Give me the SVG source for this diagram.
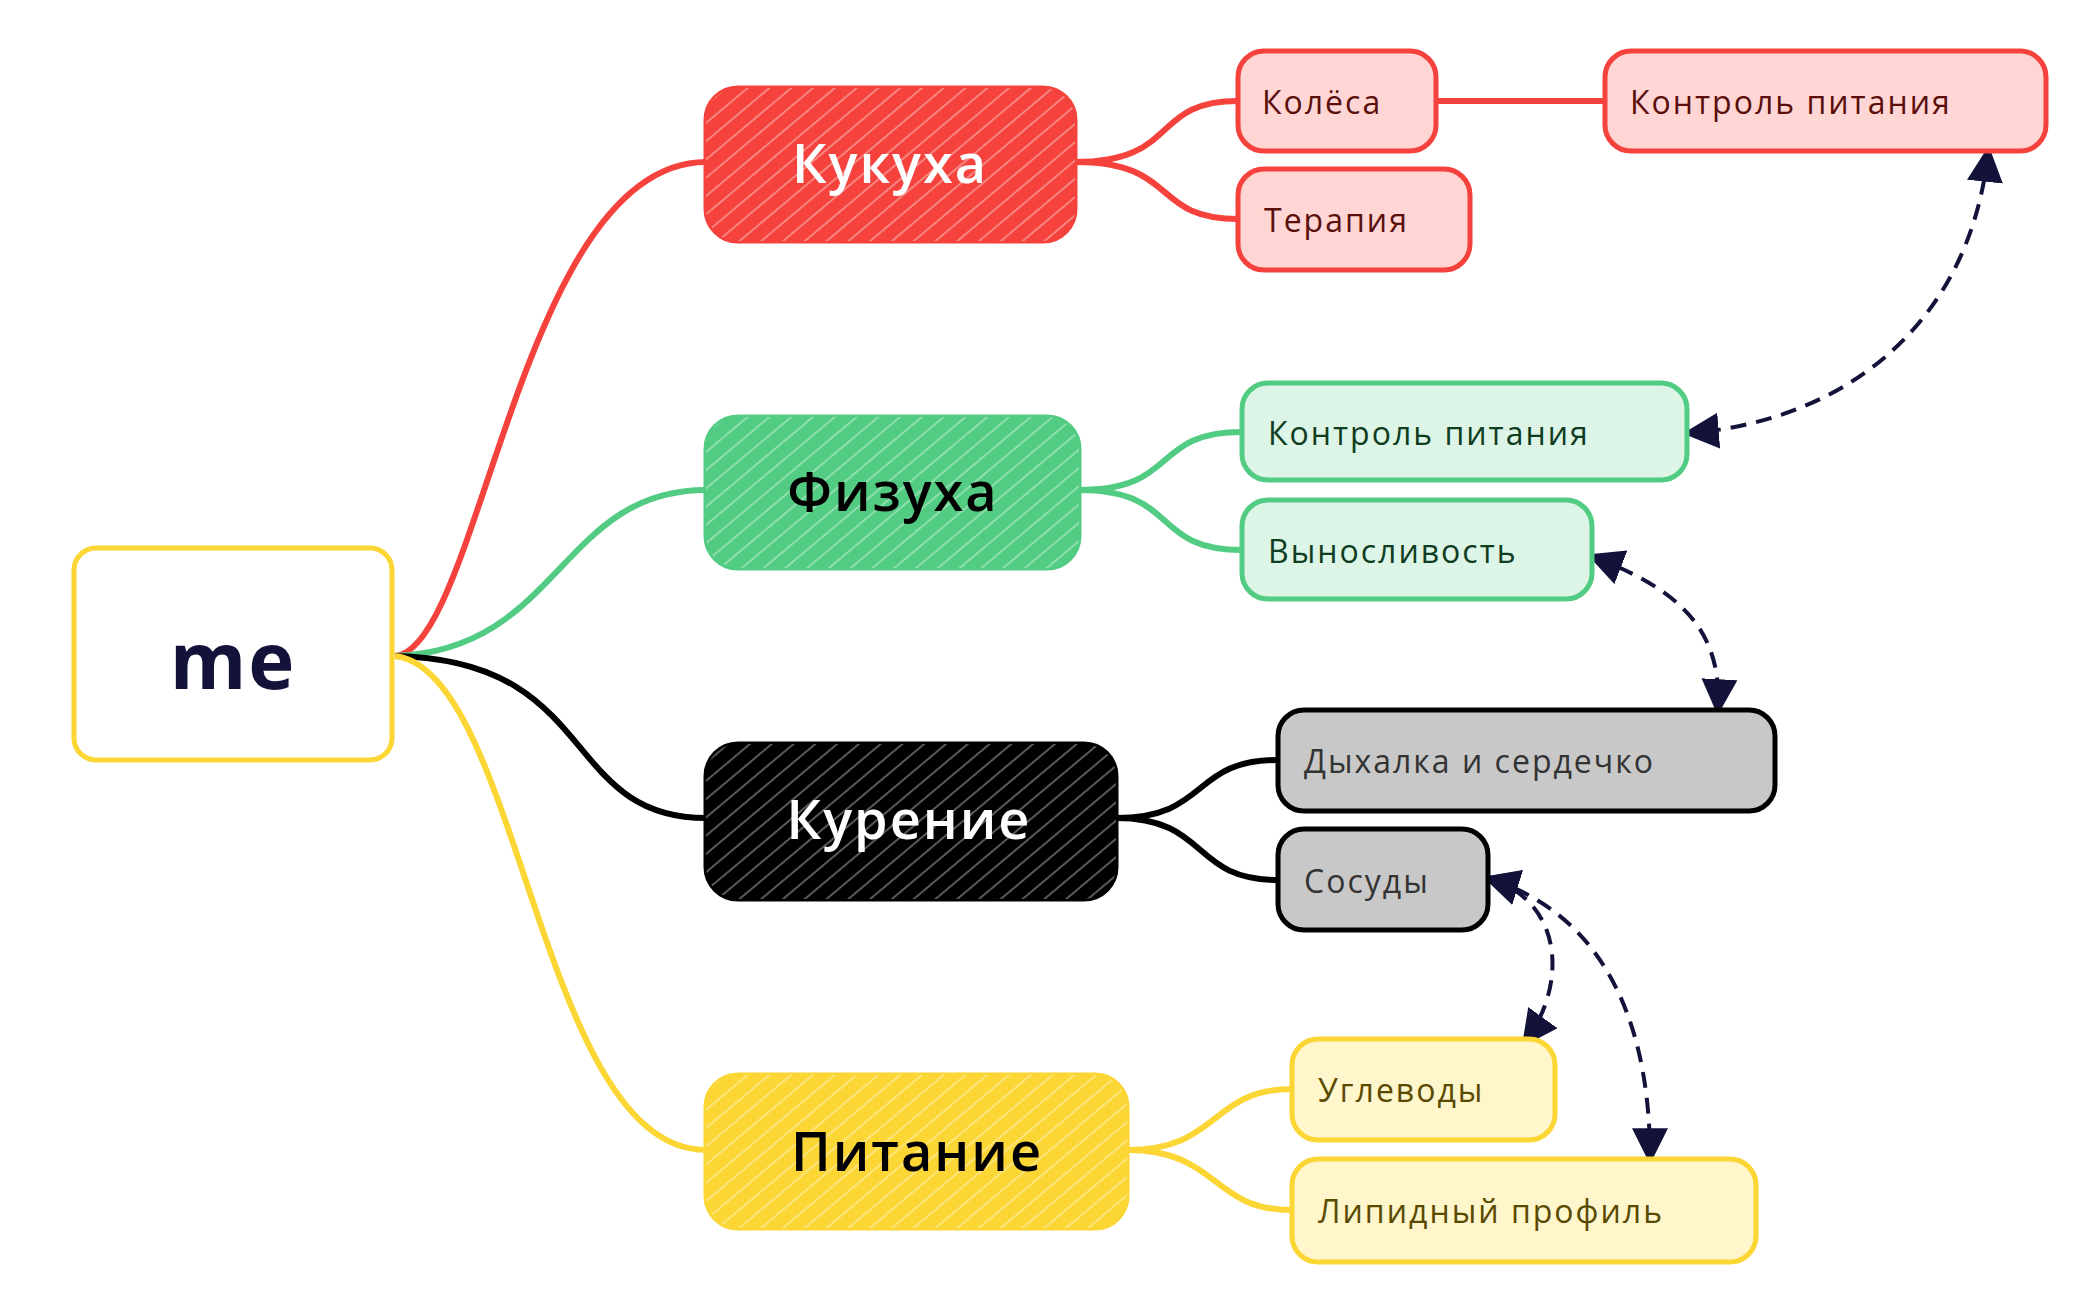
<svg xmlns="http://www.w3.org/2000/svg" width="2099" height="1300" viewBox="0 0 2099 1300">
<defs>
<pattern id="h" width="14" height="14" patternUnits="userSpaceOnUse" patternTransform="rotate(-40)"><line x1="0" y1="2" x2="14" y2="2" stroke="#fff" stroke-opacity="0.35" stroke-width="2"/></pattern>
<marker id="a" viewBox="0 0 10 10" refX="8" refY="5" markerWidth="9" markerHeight="9" orient="auto-start-reverse"><path d="M0,0 L10,5 L0,10 z" fill="#12123a"/></marker>
<style>
text{font-family:"Open Sans","Liberation Sans",sans-serif;text-anchor:middle;dominant-baseline:central;letter-spacing:2px}
.m{font-size:54px;font-weight:600}.c{font-size:32px;text-anchor:start}
.dash{fill:none;stroke:#12123a;stroke-width:4;stroke-dasharray:16 10;marker-start:url(#a);marker-end:url(#a)}
.e{fill:none;stroke-width:6}
</style>
</defs>
<rect width="2099" height="1300" fill="#fff"/>
<g id="connectors">
<path class="e" stroke="#f5423c" d="M395,656 C480,650 520,162 706,162"/>
<path class="e" stroke="#52cc83" d="M395,656 C560,650 560,490 706,490"/>
<path class="e" stroke="#000" stroke-width="8" d="M395,656 C600,660 560,818 706,818"/>
<path class="e" stroke="#fcd634" d="M395,656 C520,670 540,1150 706,1150"/>
<path class="e" stroke="#f5423c" d="M1075,162 C1180,162 1150,101 1238,101"/>
<path class="e" stroke="#f5423c" d="M1075,162 C1180,162 1150,219 1238,219"/>
<path class="e" stroke="#f5423c" d="M1436,101 L1605,101"/>
<path class="e" stroke="#52cc83" d="M1079,490 C1180,490 1150,432 1242,432"/>
<path class="e" stroke="#52cc83" d="M1079,490 C1180,490 1150,550 1242,550"/>
<path class="e" stroke="#000" d="M1116,818 C1210,818 1190,760 1278,760"/>
<path class="e" stroke="#000" d="M1116,818 C1210,818 1190,880 1278,880"/>
<path class="e" stroke="#fcd634" d="M1127,1150 C1220,1150 1210,1089 1292,1089"/>
<path class="e" stroke="#fcd634" d="M1127,1150 C1220,1150 1210,1210 1292,1210"/>
<path class="dash" d="M1988,153 C1970,320 1850,420 1690,433"/>
<path class="dash" d="M1594,557 C1680,590 1722,630 1718,708"/>
<path class="dash" d="M1490,879 C1560,900 1570,980 1526,1041"/>
<path class="dash" d="M1490,879 C1620,920 1650,1050 1650,1157"/>
</g>
<g id="me"><rect x="74" y="548" width="318" height="212" rx="22" fill="#fff" stroke="#fcd634" stroke-width="5"/><text x="233" y="659" style="font-size:78px;font-weight:bold;fill:#12123a">me</text></g>
<g id="kukuha"><rect x="706" y="88" width="369" height="153" rx="32" fill="#f5423c" stroke="#f5423c" stroke-width="5"/><rect x="706" y="88" width="369" height="153" rx="32" fill="url(#h)"/><text class="m" x="890" y="162" fill="#fff">Кукуха</text></g>
<g id="fizuha"><rect x="706" y="417" width="373" height="151" rx="32" fill="#52cc83" stroke="#52cc83" stroke-width="5"/><rect x="706" y="417" width="373" height="151" rx="32" fill="url(#h)"/><text class="m" x="893" y="490" fill="#000">Физуха</text></g>
<g id="kurenie"><rect x="706" y="744" width="410" height="155" rx="32" fill="#000" stroke="#000" stroke-width="5"/><rect x="706" y="744" width="410" height="155" rx="32" fill="url(#h)"/><text class="m" x="909" y="818" fill="#fff">Курение</text></g>
<g id="pitanie"><rect x="706" y="1075" width="421" height="153" rx="32" fill="#fcd634" stroke="#fcd634" stroke-width="5"/><rect x="706" y="1075" width="421" height="153" rx="32" fill="url(#h)"/><text class="m" x="917" y="1150" fill="#000">Питание</text></g>
<g id="kolesa"><rect x="1238" y="51" width="198" height="100" rx="26" fill="#ffd6d4" stroke="#f5423c" stroke-width="5"/><text class="c" x="1262" y="101" fill="#5a0f0c">Колёса</text></g>
<g id="kp1"><rect x="1605" y="51" width="441" height="100" rx="26" fill="#ffd6d4" stroke="#f5423c" stroke-width="5"/><text class="c" x="1630" y="101" fill="#5a0f0c">Контроль питания</text></g>
<g id="terapia"><rect x="1238" y="169" width="232" height="101" rx="26" fill="#ffd6d4" stroke="#f5423c" stroke-width="5"/><text class="c" x="1264" y="219" fill="#5a0f0c">Терапия</text></g>
<g id="kp2"><rect x="1242" y="383" width="445" height="97" rx="26" fill="#dcf5e6" stroke="#52cc83" stroke-width="5"/><text class="c" x="1268" y="432" fill="#0f3d22">Контроль питания</text></g>
<g id="vynos"><rect x="1242" y="500" width="350" height="99" rx="26" fill="#dcf5e6" stroke="#52cc83" stroke-width="5"/><text class="c" x="1268" y="550" fill="#0f3d22">Выносливость</text></g>
<g id="dyh"><rect x="1278" y="710" width="497" height="101" rx="26" fill="#c8c8c8" stroke="#000" stroke-width="5"/><text class="c" x="1304" y="760" fill="#333">Дыхалка и сердечко</text></g>
<g id="sosudy"><rect x="1278" y="829" width="210" height="101" rx="26" fill="#c8c8c8" stroke="#000" stroke-width="5"/><text class="c" x="1304" y="880" fill="#333">Сосуды</text></g>
<g id="ugl"><rect x="1292" y="1039" width="263" height="101" rx="26" fill="#fff6cc" stroke="#fcd634" stroke-width="5"/><text class="c" x="1318" y="1089" fill="#5a4a00">Углеводы</text></g>
<g id="lip"><rect x="1292" y="1159" width="464" height="103" rx="26" fill="#fff6cc" stroke="#fcd634" stroke-width="5"/><text class="c" x="1318" y="1210" fill="#5a4a00">Липидный профиль</text></g>
</svg>
